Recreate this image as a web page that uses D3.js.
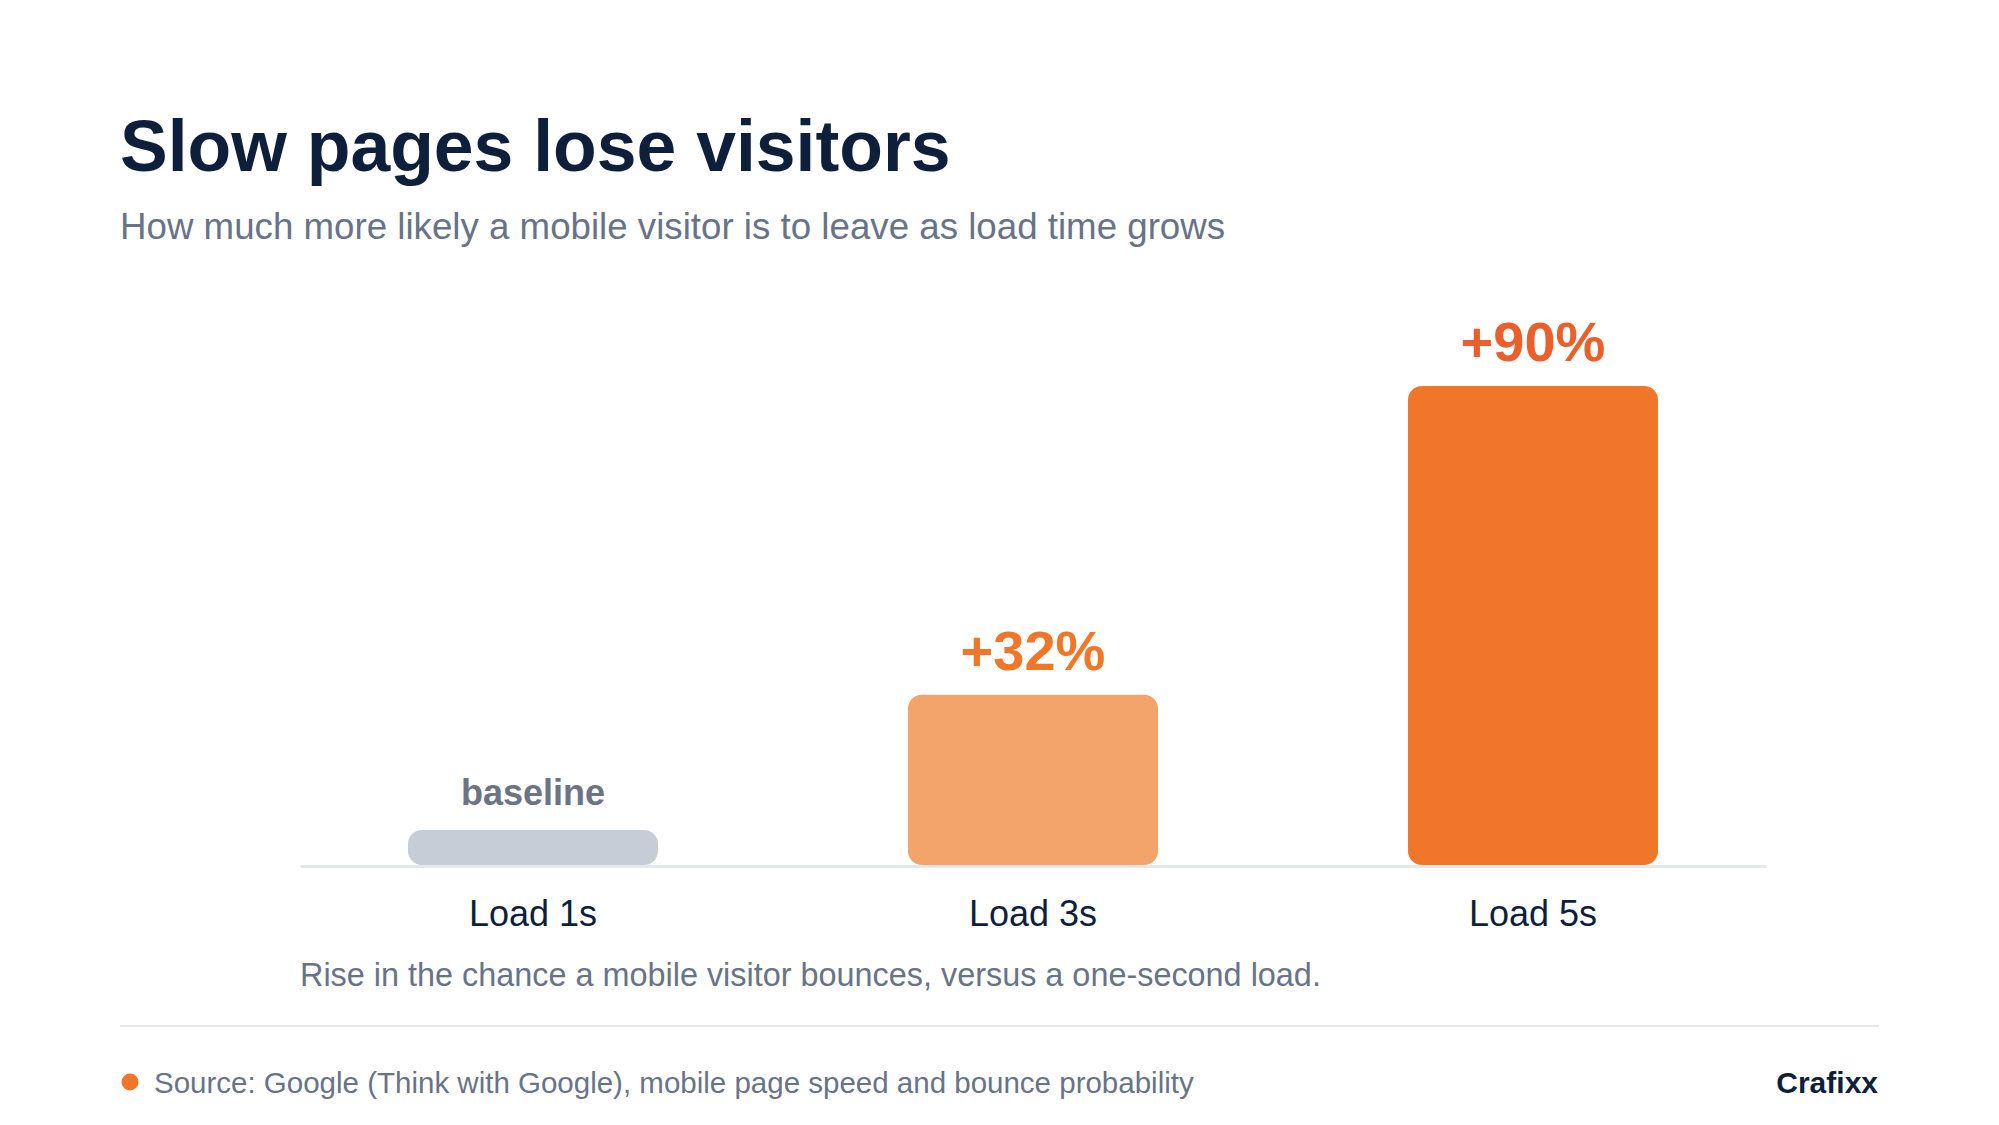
<!DOCTYPE html>
<html>
<head>
<meta charset="utf-8">
<script src="https://cdn.jsdelivr.net/npm/d3@7"></script>
<style>
  body { margin: 0; background: #ffffff; }
  svg { display: block; font-family: "Liberation Sans", Arial, sans-serif; }
</style>
</head>
<body>
<div id="chart"></div>
<script>
// chart data
var categories = ["Load 1s", "Load 3s", "Load 5s"];
var values = [0, 32, 90];
var valueLabels = ["baseline", "+32%", "+90%"];

var barColors = ["#c7cdd7", "#f3a46b", "#f07629"];
var labelColors = ["#6b7385", "#f07629", "#ea5f2c"];

var width = 1999, height = 1125;
var navy = "#0e1f3b", gray = "#687387";

var svg = d3.select("#chart")
  .append("svg")
    .attr("width", width)
    .attr("height", height);

// Title and subtitle
svg.append("text")
  .attr("x", 120)
  .attr("y", 171)
  .attr("font-size", 71.5)
  .attr("font-weight", "bold")
  .attr("fill", navy)
  .text("Slow pages lose visitors");

svg.append("text")
  .attr("x", 120)
  .attr("y", 239)
  .attr("font-size", 36.7)
  .attr("fill", gray)
  .text("How much more likely a mobile visitor is to leave as load time grows");

// Scales
var x = d3.scaleBand()
  .domain(categories)
  .range([300, 1766])
  .paddingInner(0.5)
  .paddingOuter(0.216);

var y = d3.scaleLinear()
  .domain([0, 90])
  .range([865, 386]);

var minBar = 35; // keep the baseline bar visible

var rows = categories.map(function(c, i) {
  return {cat: c, value: values[i], label: valueLabels[i], i: i};
});

function barTop(d) {
  return Math.min(y(d.value), y(0) - minBar);
}

// Bars
svg.selectAll("rect.bar")
  .data(rows)
  .enter()
  .append("rect")
    .attr("class", "bar")
    .attr("x", d => x(d.cat))
    .attr("y", d => barTop(d))
    .attr("width", x.bandwidth())
    .attr("height", d => y(0) - barTop(d))
    .attr("rx", 14)
    .attr("fill", d => barColors[d.i]);

// X axis (baseline rule + category labels)
var axis = svg.append("g")
  .attr("transform", "translate(0,866)")
  .call(d3.axisBottom(x).tickSize(0).tickPadding(34));

axis.select(".domain")
  .attr("stroke", "#e5e7eb")
  .attr("stroke-width", 3);

axis.selectAll(".tick text")
  .attr("font-family", "'Liberation Sans', Arial, sans-serif")
  .attr("font-size", 36)
  .attr("fill", navy);

// Value labels
svg.selectAll("text.val")
  .data(rows)
  .enter()
  .append("text")
    .attr("class", "val")
    .attr("x", d => x(d.cat) + x.bandwidth() / 2)
    .attr("y", d => barTop(d) - 25)
    .attr("text-anchor", "middle")
    .attr("font-weight", "bold")
    .attr("font-size", d => d.i === 0 ? 36 : 56)
    .attr("fill", d => labelColors[d.i])
    .text(d => d.label);

// Note under the chart
svg.append("text")
  .attr("x", 300)
  .attr("y", 986)
  .attr("font-size", 32.4)
  .attr("fill", gray)
  .text("Rise in the chance a mobile visitor bounces, versus a one-second load.");

// Footer
svg.append("line")
  .attr("x1", 120)
  .attr("x2", 1879)
  .attr("y1", 1026)
  .attr("y2", 1026)
  .attr("stroke", "#e5e7eb")
  .attr("stroke-width", 2);

svg.append("circle")
  .attr("cx", 130)
  .attr("cy", 1082)
  .attr("r", 8.5)
  .attr("fill", "#f07629");

svg.append("text")
  .attr("x", 154)
  .attr("y", 1093)
  .attr("font-size", 29.5)
  .attr("fill", gray)
  .text("Source: Google (Think with Google), mobile page speed and bounce probability");

svg.append("text")
  .attr("x", 1878)
  .attr("y", 1093)
  .attr("text-anchor", "end")
  .attr("font-size", 30)
  .attr("font-weight", "bold")
  .attr("fill", navy)
  .text("Crafixx");
</script>
</body>
</html>
